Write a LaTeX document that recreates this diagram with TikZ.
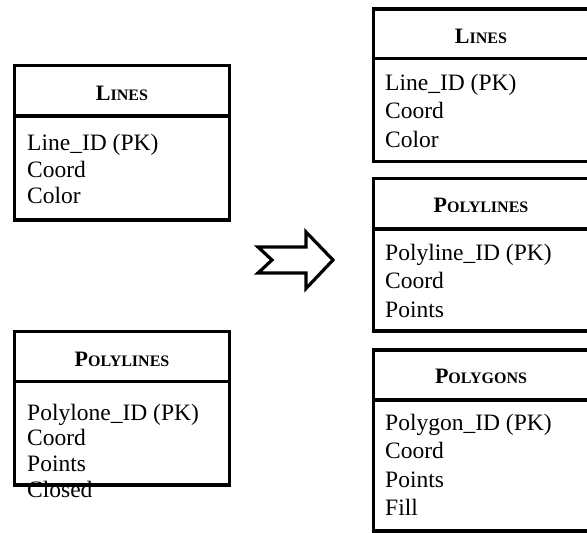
\documentclass[tikz,border=0pt]{standalone}
\usepackage{fontspec}
\setmainfont{Liberation Serif}
\begin{document}
\begin{tikzpicture}[x=1pt,y=-1pt,
  frame/.style={draw=black,line width=3.4pt,fill=none},
  field/.style={anchor=base west,inner sep=0pt,font=\fontsize{23.5}{26}\selectfont},
  title/.style={anchor=base,inner sep=0pt,font=\fontsize{22}{26}\selectfont\bfseries},
  blockarrow/.style={draw=black,line width=3.2pt,fill=white,line join=miter}]
\useasboundingbox (0,0) rectangle (587,533);
\clip (0,0) rectangle (587,533);
\newcommand{\sct}[2]{#1{\fontsize{16}{20}\selectfont #2}}

% ---- left column: LINES table
\node[title] (l1t) at (122,100) {\sct{L}{INES}};
\node[field] (l1a) at (27,150.5) {Line\_ID (PK)};
\node[field] (l1b) at (27,177.5) {Coord};
\node[field] (l1c) at (27,203.5) {Color};
\draw[frame] (14.3,65.5) rectangle (229.5,220);
\draw[frame] (14.3,116) -- (229.5,116);

% ---- left column: POLYLINES table
\node[title] (l2t) at (122,366) {\sct{P}{OLYLINES}};
\node[field] (l2a) at (27,420) {Polylone\_ID (PK)};
\node[field] (l2b) at (27,445) {Coord};
\node[field] (l2c) at (27,471) {Points};
\node[field] (l2d) at (27,497) {Closed};
\draw[frame] (14.3,331.7) rectangle (229.5,485);
\draw[frame] (14.3,381.7) -- (229.5,381.7);

% ---- transformation arrow
\draw[blockarrow] (258,247) -- (306,247) -- (306,232) -- (333,260)
  -- (306,288.5) -- (306,273) -- (258,273) -- (272,260) -- cycle;

% ---- right column: LINES table
\node[title] (r1t) at (481,43) {\sct{L}{INES}};
\node[field] (r1a) at (385,90) {Line\_ID (PK)};
\node[field] (r1b) at (385,118) {Coord};
\node[field] (r1c) at (385,147) {Color};
\draw[frame] (373.3,9) rectangle (589,161.5);
\draw[frame] (373.3,58.5) -- (589,58.5);

% ---- right column: POLYLINES table
\node[title] (r2t) at (481,212) {\sct{P}{OLYLINES}};
\node[field] (r2a) at (385,260) {Polyline\_ID (PK)};
\node[field] (r2b) at (385,288) {Coord};
\node[field] (r2c) at (385,317) {Points};
\draw[frame] (373.3,178.3) rectangle (589,331);
\draw[frame] (373.3,229) -- (589,229);

% ---- right column: POLYGONS table
\node[title] (r3t) at (481,383) {\sct{P}{OLYGONS}};
\node[field] (r3a) at (385,430) {Polygon\_ID (PK)};
\node[field] (r3b) at (385,458) {Coord};
\node[field] (r3c) at (385,487) {Points};
\node[field] (r3d) at (385,515) {Fill};
\draw[frame] (373.3,350) rectangle (589,531);
\draw[frame] (373.3,400) -- (589,400);
\end{tikzpicture}
\end{document}
